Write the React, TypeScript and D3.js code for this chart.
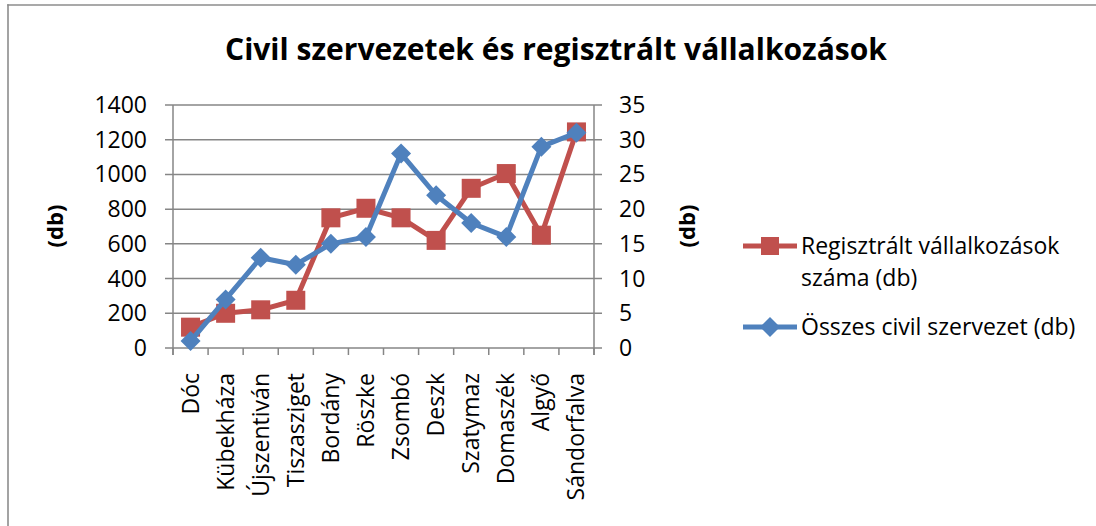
import React from "react";
import * as d3 from "d3";

const categories = ["Dóc", "Kübekháza", "Újszentiván", "Tiszasziget", "Bordány", "Röszke", "Zsombó", "Deszk", "Szatymaz", "Domaszék", "Algyő", "Sándorfalva"];
const vallalkozasok = [120, 200, 220, 275, 750, 805, 750, 620, 920, 1005, 650, 1245];
const civil = [1, 7, 13, 12, 15, 16, 28, 22, 18, 16, 29, 31];
const leftTicks = [0, 200, 400, 600, 800, 1000, 1200, 1400];
const rightTicks = [0, 5, 10, 15, 20, 25, 30, 35];
const title = "Civil szervezetek és regisztrált vállalkozások";
const legendRed = ["Regisztrált vállalkozások", "száma (db)"];
const legendBlue = "Összes civil szervezet (db)";

const RED = "#C0504D";
const BLUE = "#4F81BD";
const GRID = "#868686";
const FONT = "'Open Sans', 'Liberation Sans', Arial, sans-serif";

export default function App() {
  const W = 1096, H = 526;
  const left = 173, right = 594, top = 105, bottom = 348;
  const x = d3.scaleBand<string>().domain(categories).range([left, right]).padding(0);
  const yL = d3.scaleLinear().domain([0, 1400]).range([bottom, top]);
  const yR = d3.scaleLinear().domain([0, 35]).range([bottom, top]);
  const cx = (c: string) => (x(c) as number) + x.bandwidth() / 2;

  const lineL = d3.line<number>().x((_, i) => cx(categories[i])).y((d) => yL(d));
  const lineR = d3.line<number>().x((_, i) => cx(categories[i])).y((d) => yR(d));

  const sq = 19;
  const dm = 10;
  const diamond = (px: number, py: number) =>
    `M${px},${py - dm}L${px + dm},${py}L${px},${py + dm}L${px - dm},${py}Z`;

  const bandEdges = categories.map((c) => x(c) as number).concat([right]);
  const fs = 23;

  return (
    <svg width={W} height={H} style={{ position: "absolute", left: 0, top: 0, background: "#fff" }} fontFamily={FONT}>
      <rect x={0} y={0} width={W} height={H} fill="#fff" />
      <line x1={7.2} x2={W} y1={5} y2={5} stroke="#8c8c8c" strokeWidth={1.6} />
      <line x1={8} x2={8} y1={4.2} y2={H} stroke="#8c8c8c" strokeWidth={1.6} />
      <text x={556} y={60} textAnchor="middle" fontWeight="bold" fontSize={30} textLength={662} lengthAdjust="spacingAndGlyphs" fill="#000">
        {title}
      </text>

      {leftTicks.map((t) => (
        <line key={"g" + t} x1={left - 8} x2={right + 8} y1={yL(t)} y2={yL(t)} stroke={GRID} strokeWidth={1.5} />
      ))}
      <line x1={left} x2={left} y1={top} y2={bottom + 7} stroke={GRID} strokeWidth={1.5} />
      <line x1={right} x2={right} y1={top} y2={bottom + 7} stroke={GRID} strokeWidth={1.5} />
      {bandEdges.map((e, i) => (
        <line key={"xt" + i} x1={e} x2={e} y1={bottom} y2={bottom + 7} stroke={GRID} strokeWidth={1.5} />
      ))}

      {leftTicks.map((t) => (
        <text key={"lt" + t} x={147} y={yL(t) + 8} textAnchor="end" fontSize={fs} fill="#000">{t}</text>
      ))}
      {rightTicks.map((t) => (
        <text key={"rt" + t} x={619} y={yR(t) + 8} textAnchor="start" fontSize={fs} fill="#000">{t}</text>
      ))}

      <text transform={`translate(63,226) rotate(-90)`} textAnchor="middle" fontWeight="bold" fontSize={22} fill="#000">(db)</text>
      <text transform={`translate(695,226) rotate(-90)`} textAnchor="middle" fontWeight="bold" fontSize={22} fill="#000">(db)</text>

      {categories.map((c) => (
        <text key={"xl" + c} transform={`translate(${cx(c) + 8},373) rotate(-90)`} textAnchor="end" fontSize={fs} fill="#000">{c}</text>
      ))}

      <path d={lineL(vallalkozasok) || ""} fill="none" stroke={RED} strokeWidth={5} strokeLinejoin="round" />
      {vallalkozasok.map((v, i) => (
        <rect key={"r" + i} x={cx(categories[i]) - sq / 2} y={yL(v) - sq / 2} width={sq} height={sq} fill={RED} />
      ))}
      <path d={lineR(civil) || ""} fill="none" stroke={BLUE} strokeWidth={5} strokeLinejoin="round" />
      {civil.map((v, i) => (
        <path key={"b" + i} d={diamond(cx(categories[i]), yR(v))} fill={BLUE} />
      ))}

      <line x1={743} x2={797} y1={246} y2={246} stroke={RED} strokeWidth={5} />
      <rect x={770 - 9} y={246 - 9} width={18} height={18} fill={RED} />
      <text x={801} y={254} fontSize={fs} fill="#000">{legendRed[0]}</text>
      <text x={801} y={286} fontSize={fs} fill="#000">{legendRed[1]}</text>
      <line x1={743} x2={797} y1={327} y2={327} stroke={BLUE} strokeWidth={5} />
      <path d={diamond(770, 327)} fill={BLUE} />
      <text x={801} y={335} fontSize={fs} fill="#000">{legendBlue}</text>
    </svg>
  );
}
